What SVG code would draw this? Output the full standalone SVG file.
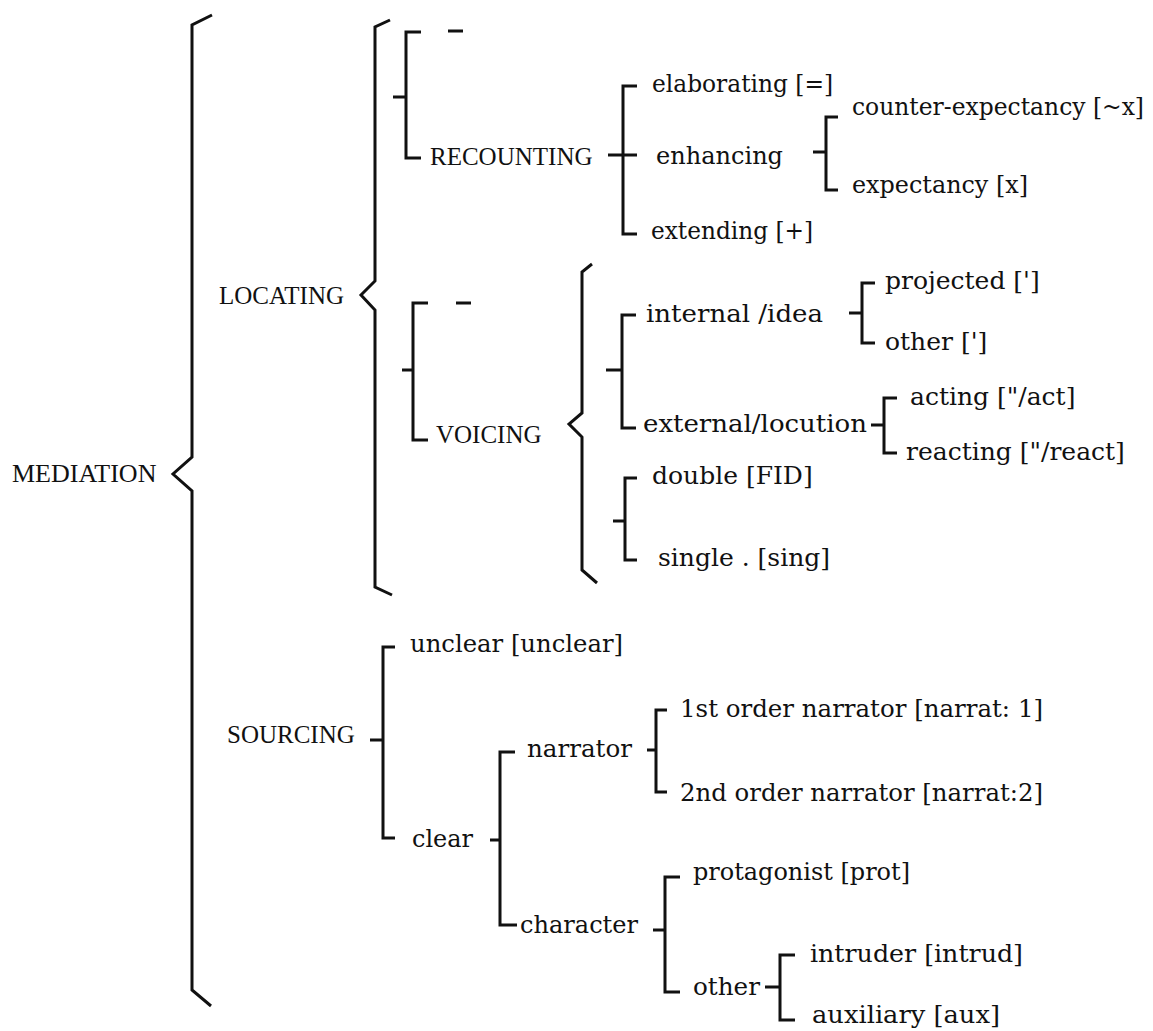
<svg xmlns="http://www.w3.org/2000/svg" width="1153" height="1031" viewBox="0 0 1153 1031">
  <style>
    .ln { fill: none; stroke: #111; stroke-width: 3; stroke-linecap: butt; stroke-linejoin: miter; }
    .cap { font-family: "Liberation Serif", "Times New Roman", serif; font-size: 25px; fill: #111; }
    .lc { font-family: "DejaVu Serif", "Liberation Serif", serif; font-size: 25px; fill: #111; }
  </style>
  <rect width="1153" height="1031" fill="#fff"/>

  <!-- brackets and braces -->
  <g id="connectors" class="ln">
    <!-- main braces -->
    <path d="M212,15 L192,25 V457 L173,474 L192,491 V990 L211,1006"/>
    <path d="M390,20 L375,27 V281 L361,295 L375,310 V587 L392,595"/>
    <path d="M592,264 L582,272 V413 L569,424 L582,437 V570 L597,583"/>
    <!-- recounting group -->
    <path d="M421,32 H406 V158 H421 M393,97 H406 M448,31 H463"/>
    <path d="M637,86 H623 V234 H637 M608,155 H637"/>
    <path d="M838,117 H826 V190 H838 M813,152 H826"/>
    <!-- voicing group -->
    <path d="M428,303 H413 V440 H428 M402,370 H413 M456,303 H471"/>
    <path d="M636,315 H622 V428 H636 M606,370 H622"/>
    <path d="M875,283 H862 V343 H875 M849,313 H862"/>
    <path d="M897,398 H884 V453 H897 M871,425 H884"/>
    <path d="M637,478 H625 V560 H637 M613,521 H625"/>
    <!-- sourcing group -->
    <path d="M395,647 H383 V838 H395 M370,740 H383"/>
    <path d="M515,752 H500 V925 H517 M490,840 H500"/>
    <path d="M667,710 H656 V792 H667 M647,750 H656"/>
    <path d="M680,877 H665 V992 H680 M653,930 H665"/>
    <path d="M795,955 H780 V1020 H795 M765,987 H780"/>
  </g>

  <g id="mediation"><text class="cap" x="12" y="482" style="font-size:26px">MEDIATION</text></g>
  <g id="locating"><text class="cap" x="219" y="304">LOCATING</text></g>
  <g id="recounting"><text class="cap" x="430" y="165">RECOUNTING</text></g>
  <g id="elaborating"><text class="lc" x="652" y="92" textLength="181" lengthAdjust="spacingAndGlyphs">elaborating [=]</text></g>
  <g id="enhancing"><text class="lc" x="656" y="164" textLength="127" lengthAdjust="spacingAndGlyphs">enhancing</text></g>
  <g id="counter-expectancy"><text class="lc" x="852" y="115" style="font-size:23.5px" textLength="292" lengthAdjust="spacingAndGlyphs">counter-expectancy [~x]</text></g>
  <g id="expectancy"><text class="lc" x="852" y="193" textLength="176" lengthAdjust="spacingAndGlyphs">expectancy [x]</text></g>
  <g id="extending"><text class="lc" x="651" y="239" textLength="162" lengthAdjust="spacingAndGlyphs">extending [+]</text></g>

  <g id="voicing"><text class="cap" x="436" y="443">VOICING</text></g>
  <g id="internal-idea"><text class="lc" x="646" y="322" textLength="177" lengthAdjust="spacingAndGlyphs">internal /idea</text></g>
  <g id="projected"><text class="lc" x="885" y="289">projected [']</text></g>
  <g id="other-idea"><text class="lc" x="885" y="350">other [']</text></g>
  <g id="external-locution"><text class="lc" x="643" y="432" textLength="224" lengthAdjust="spacingAndGlyphs">external/locution</text></g>
  <g id="acting"><text class="lc" x="910" y="405">acting ["/act]</text></g>
  <g id="reacting"><text class="lc" x="906" y="460">reacting ["/react]</text></g>
  <g id="double"><text class="lc" x="652" y="484">double [FID]</text></g>
  <g id="single"><text class="lc" x="658" y="566">single . [sing]</text></g>

  <g id="sourcing"><text class="cap" x="227" y="743">SOURCING</text></g>
  <g id="unclear"><text class="lc" x="410" y="652" textLength="213" lengthAdjust="spacingAndGlyphs">unclear [unclear]</text></g>
  <g id="clear"><text class="lc" x="412" y="847" textLength="61" lengthAdjust="spacingAndGlyphs">clear</text></g>
  <g id="narrator"><text class="lc" x="527" y="757" textLength="105" lengthAdjust="spacingAndGlyphs">narrator</text></g>
  <g id="narrator-1"><text class="lc" x="680" y="717" textLength="363" lengthAdjust="spacingAndGlyphs">1st order narrator [narrat: 1]</text></g>
  <g id="narrator-2"><text class="lc" x="680" y="801" textLength="363" lengthAdjust="spacingAndGlyphs">2nd order narrator [narrat:2]</text></g>
  <g id="character"><text class="lc" x="520" y="933" textLength="118" lengthAdjust="spacingAndGlyphs">character</text></g>
  <g id="protagonist"><text class="lc" x="693" y="880" textLength="217" lengthAdjust="spacingAndGlyphs">protagonist [prot]</text></g>
  <g id="other-character"><text class="lc" x="693" y="995" textLength="67" lengthAdjust="spacingAndGlyphs">other</text></g>
  <g id="intruder"><text class="lc" x="810" y="962" textLength="213" lengthAdjust="spacingAndGlyphs">intruder [intrud]</text></g>
  <g id="auxiliary"><text class="lc" x="812" y="1023" textLength="188" lengthAdjust="spacingAndGlyphs">auxiliary [aux]</text></g>
</svg>
